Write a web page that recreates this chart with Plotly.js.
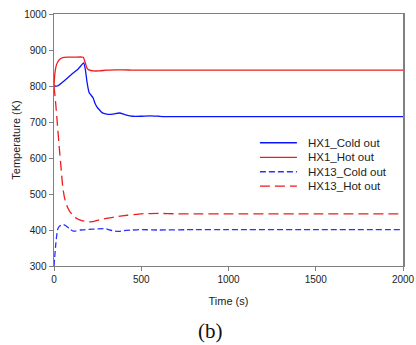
<!DOCTYPE html>
<html><head><meta charset="utf-8">
<script src="https://cdn.plot.ly/plotly-3.0.1.min.js"></script>
<style>html,body{margin:0;padding:0;background:#fff;}#chart{width:416px;height:345px;}</style>
</head><body><div id="chart"></div>
<script>
const seriesNames = ["HX1_Cold out", "HX1_Hot out", "HX13_Cold out", "HX13_Hot out"];

const hx1ColdT = [0, 20, 60, 100, 140, 170, 180, 188, 195, 202, 212, 225, 235, 245, 260, 275, 290, 310, 340, 375, 410, 450, 500, 550, 600, 650, 700, 800, 1000, 1500, 2000];
const hx1ColdV = [800, 800, 815, 832, 848, 864, 845, 815, 795, 781, 775, 766, 752, 743, 734, 726, 723, 721, 722, 725, 720, 716, 716, 717, 716, 715, 715, 715, 715, 715, 715];

const hx1HotT = [0, 5, 15, 30, 50, 80, 120, 168, 178, 190, 200, 225, 260, 300, 350, 400, 450, 500, 600, 800, 1000, 1500, 2000];
const hx1HotV = [800, 835, 860, 873, 879, 880, 880, 880, 866, 849, 845, 842, 842, 844, 845, 845, 844, 844, 844, 844, 844, 844, 844];

const hx13ColdT = [0, 10, 20, 30, 45, 55, 70, 90, 110, 125, 150, 200, 250, 290, 320, 350, 375, 400, 450, 500, 600, 800, 1000, 1500, 2000];
const hx13ColdV = [300, 360, 400, 410, 414, 415, 411, 403, 397, 397, 400, 402, 403, 404, 400, 397, 396, 398, 400, 401, 400, 401, 401, 401, 401];

const hx13HotT = [0, 10, 20, 30, 40, 50, 60, 75, 90, 110, 130, 160, 190, 220, 260, 300, 360, 420, 500, 600, 700, 800, 1000, 1500, 2000];
const hx13HotV = [800, 750, 690, 630, 575, 520, 490, 466, 452, 440, 432, 426, 423, 423, 428, 432, 437, 441, 445, 446, 445, 445, 445, 445, 445];

const xTicks = [0, 500, 1000, 1500, 2000];
const yTicks = [300, 400, 500, 600, 700, 800, 900, 1000];

const colors = ["#0a14ff", "#ee1c1c", "#2a32ff", "#ee1c1c"];
const dashes = ["solid", "solid", "6px,3px", "10px,5px"];

const seriesT = [hx1ColdT, hx1HotT, hx13ColdT, hx13HotT];
const seriesV = [hx1ColdV, hx1HotV, hx13ColdV, hx13HotV];

const traces = seriesNames.map((n, i) => ({
  x: seriesT[i], y: seriesV[i], name: n, mode: "lines", showlegend: false,
  line: {color: colors[i], width: 1.3, dash: dashes[i], shape: "spline", smoothing: 0.4}
}));

const axisFont = {family: "Liberation Sans, Arial, sans-serif", size: 10, color: "#222"};
const titleFont = {family: "Liberation Sans, Arial, sans-serif", size: 11, color: "#222"};

// legend (built from seriesNames)
const legY = [0.489, 0.431, 0.374, 0.317];
const shapes = [];
const annotations = [];
seriesNames.forEach((n, i) => {
  shapes.push({type: "line", xref: "paper", yref: "paper", x0: 0.590, x1: 0.696, y0: legY[i], y1: legY[i],
               line: {color: colors[i], width: 1.3, dash: dashes[i]}});
  annotations.push({text: n, xref: "paper", yref: "paper", x: 0.726, y: legY[i], xanchor: "left", yanchor: "middle",
                    showarrow: false, borderpad: 0, font: {family: "Liberation Sans, Arial, sans-serif", size: 11.5, color: "#222"}});
});
annotations.push({text: "(b)", xref: "paper", yref: "paper", x: 0.447, y: -0.258, xanchor: "center", yanchor: "middle",
                  showarrow: false, borderpad: 0, font: {family: "Liberation Serif, Times New Roman, serif", size: 21, color: "#111"}});

const layout = {
  width: 416, height: 345,
  margin: {l: 54, r: 13, t: 14, b: 79},
  paper_bgcolor: "#fff", plot_bgcolor: "#fff",
  showlegend: false,
  xaxis: {range: [0, 2000], tickvals: xTicks, ticktext: xTicks.map(String), showgrid: false, zeroline: false,
          showline: true, linecolor: "#808080", linewidth: 1, mirror: true,
          ticks: "outside", ticklen: 4, tickcolor: "#808080", tickfont: axisFont, automargin: false,
          title: {text: "Time (s)", font: titleFont, standoff: 13}},
  yaxis: {range: [300, 1000], tickvals: yTicks, ticktext: yTicks.map(String), showgrid: false, zeroline: false,
          showline: true, linecolor: "#808080", linewidth: 1.5, mirror: true,
          ticks: "outside", ticklen: 4, tickcolor: "#808080", tickfont: axisFont, automargin: false,
          title: {text: "Temperature (K)", font: titleFont, standoff: 1}},
  shapes: shapes,
  annotations: annotations
};

Plotly.newPlot("chart", traces, layout, {displayModeBar: false, staticPlot: true});
</script></body></html>
